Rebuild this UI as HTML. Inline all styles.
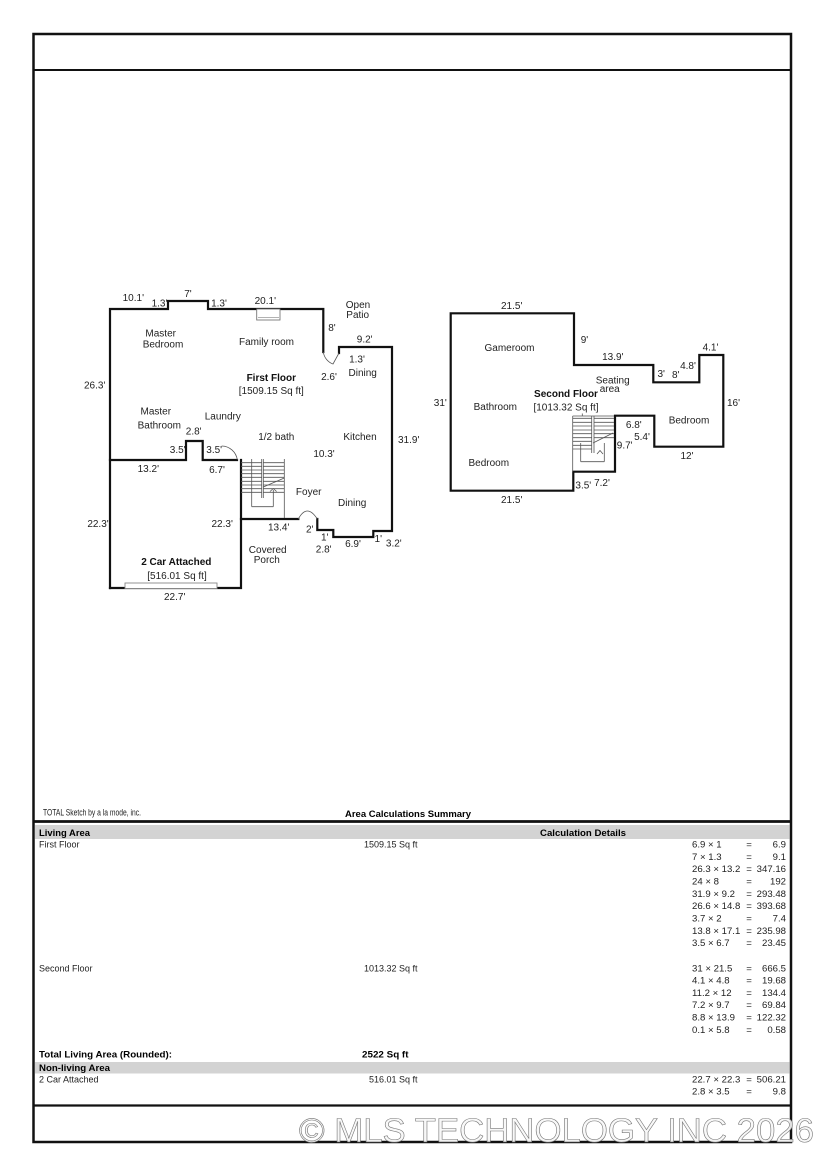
<!DOCTYPE html>
<html>
<head>
<meta charset="utf-8">
<style>
  html, body { margin:0; padding:0; background:#fff; }
  svg { display:block; }
  .lbl { font-family:"Liberation Sans", sans-serif; font-size:10px; fill:#222; text-anchor:middle; }
  .bld { font-family:"Liberation Sans", sans-serif; font-size:10px; fill:#111; font-weight:bold; text-anchor:middle; }
  .t { font-family:"Liberation Sans", sans-serif; font-size:9px; fill:#222; }
  .c { font-family:"Liberation Sans", sans-serif; font-size:9.6px; fill:#222; }
  .tb { font-family:"Liberation Sans", sans-serif; font-size:9.5px; fill:#000; font-weight:bold; }
  .wall { fill:none; stroke:#111; stroke-width:2.2; stroke-linejoin:miter; stroke-linecap:square; }
  .thin { fill:none; stroke:#555; stroke-width:0.8; }
</style>
</head>
<body>
<svg width="825" height="1157" viewBox="0 0 825 1157" xmlns="http://www.w3.org/2000/svg">
  <rect x="0" y="0" width="825" height="1157" fill="#fff"/>

  <!-- page frame -->
  <rect x="33.5" y="34" width="757.5" height="1108" fill="none" stroke="#111" stroke-width="2.5"/>
  <line x1="33.5" y1="70" x2="791" y2="70" stroke="#111" stroke-width="2"/>
  <line x1="33.5" y1="821.5" x2="791" y2="821.5" stroke="#111" stroke-width="2.8"/>
  <line x1="33.5" y1="1105.5" x2="791" y2="1105.5" stroke="#111" stroke-width="2.2"/>

  <!-- ============ FIRST FLOOR ============ -->
  <g>
    <path class="wall" d="M110,588 L110,309 L168,309 L168,301 L208,301 L208,309 L323.3,309 L323.3,352"/>
    <path class="wall" d="M339,353 L339,347 L392,347 L392,531 L373.3,531 L373.3,537 L333.3,537 L333.3,530 L317.3,530 L317.3,519"/>
    <path class="wall" d="M298.3,519 L241,519"/>
    <path class="wall" d="M110,588 L241,588 L241,460"/>
    <path class="wall" d="M110,460 L186,460 L186,441 L202.7,441 L202.7,460 L237,460"/>

    <!-- garage door -->
    <rect x="125" y="583" width="92" height="5.5" fill="#fff" stroke="#888" stroke-width="0.9"/>
    <!-- fireplace -->
    <rect x="256.7" y="309" width="23.3" height="11" fill="#fff" stroke="#777" stroke-width="0.9"/>
    <line x1="258" y1="317.5" x2="279" y2="317.5" stroke="#999" stroke-width="0.7"/>

    <!-- doors -->
    <path class="thin" d="M221.7,446 A16,16 0 0 1 237.3,460"/>
    <path class="thin" d="M298.3,519 Q307,503 317.3,519"/>
    <path class="thin" d="M323.3,352 A15,15 0 0 0 333,364 L339,353"/>

    <!-- stairs -->
    <g class="thin">
      <line x1="241" y1="462.7" x2="261.7" y2="462.7"/>
      <line x1="241" y1="466.3" x2="261.7" y2="466.3"/>
      <line x1="241" y1="470" x2="261.7" y2="470"/>
      <line x1="241" y1="473.7" x2="261.7" y2="473.7"/>
      <line x1="241" y1="477.3" x2="261.7" y2="477.3"/>
      <line x1="241" y1="481.3" x2="261.7" y2="481.3"/>
      <line x1="241" y1="485" x2="261.7" y2="485"/>
      <line x1="241" y1="488.7" x2="261.7" y2="488.7"/>
      <line x1="241" y1="492.3" x2="261.7" y2="492.3"/>
      <line x1="263.3" y1="462.7" x2="284.3" y2="462.7"/>
      <line x1="263.3" y1="466.3" x2="284.3" y2="466.3"/>
      <line x1="263.3" y1="470" x2="284.3" y2="470"/>
      <line x1="263.3" y1="473.7" x2="284.3" y2="473.7"/>
      <line x1="263.3" y1="477.3" x2="284.3" y2="477.3"/>
      <line x1="263.3" y1="481.3" x2="284.3" y2="481.3"/>
      <line x1="263.3" y1="485" x2="284.3" y2="485"/>
      <line x1="263.3" y1="488.7" x2="284.3" y2="488.7"/>
      <line x1="263.3" y1="492.3" x2="284.3" y2="492.3"/>
      <line x1="251.7" y1="459" x2="251.7" y2="506.7"/>
      <line x1="261.7" y1="459" x2="261.7" y2="498"/>
      <line x1="263.3" y1="459" x2="263.3" y2="498"/>
      <line x1="284.3" y1="459" x2="284.3" y2="518"/>
      <line x1="251.7" y1="506.7" x2="273.3" y2="506.7"/>
      <line x1="273.3" y1="490" x2="273.3" y2="506.7"/>
      <line x1="263.3" y1="487" x2="284.3" y2="478"/>
      <polyline points="270,491.5 273.3,488.5 276.6,491.5"/>
    </g>

    <!-- labels -->
    <text class="lbl" x="133.3" y="301">10.1'</text>
    <text class="lbl" x="159.5" y="306.5">1.3'</text>
    <text class="lbl" x="188" y="297">7'</text>
    <text class="lbl" x="219" y="306.5">1.3'</text>
    <text class="lbl" x="265.3" y="304">20.1'</text>
    <text class="lbl" x="358" y="308">Open</text>
    <text class="lbl" x="357.7" y="318">Patio</text>
    <text class="lbl" x="332" y="331">8'</text>
    <text class="lbl" x="364.7" y="342.5">9.2'</text>
    <text class="lbl" x="357" y="362.5">1.3'</text>
    <text class="lbl" x="362.7" y="376">Dining</text>
    <text class="lbl" x="329" y="380">2.6'</text>
    <text class="lbl" x="160.7" y="336.5">Master</text>
    <text class="lbl" x="163" y="347.7">Bedroom</text>
    <text class="lbl" x="266.5" y="345">Family room</text>
    <text class="bld" x="271.3" y="381">First Floor</text>
    <text class="lbl" x="271.3" y="394">[1509.15 Sq ft]</text>
    <text class="lbl" x="94.7" y="388.5">26.3'</text>
    <text class="lbl" x="155.8" y="414.5">Master</text>
    <text class="lbl" x="159.3" y="428.5">Bathroom</text>
    <text class="lbl" x="222.8" y="419.5">Laundry</text>
    <text class="lbl" x="193.7" y="434.5">2.8'</text>
    <text class="lbl" x="276.3" y="440">1/2 bath</text>
    <text class="lbl" x="360" y="440">Kitchen</text>
    <text class="lbl" x="408.7" y="443">31.9'</text>
    <text class="lbl" x="177.7" y="453">3.5'</text>
    <text class="lbl" x="214.2" y="453">3.5'</text>
    <text class="lbl" x="324" y="457">10.3'</text>
    <text class="lbl" x="148.3" y="472">13.2'</text>
    <text class="lbl" x="217" y="473">6.7'</text>
    <text class="lbl" x="308.7" y="495">Foyer</text>
    <text class="lbl" x="352.2" y="506">Dining</text>
    <text class="lbl" x="98" y="527">22.3'</text>
    <text class="lbl" x="222.2" y="527">22.3'</text>
    <text class="lbl" x="278.7" y="530.5">13.4'</text>
    <text class="lbl" x="309.7" y="532.5">2'</text>
    <text class="lbl" x="324.7" y="540.5">1'</text>
    <text class="lbl" x="353" y="547">6.9'</text>
    <text class="lbl" x="378.3" y="542">1'</text>
    <text class="lbl" x="393.8" y="546.5">3.2'</text>
    <text class="lbl" x="323.7" y="552.5">2.8'</text>
    <text class="lbl" x="267.7" y="553">Covered</text>
    <text class="lbl" x="266.8" y="563">Porch</text>
    <text class="bld" x="176.3" y="565">2 Car Attached</text>
    <text class="lbl" x="177" y="579">[516.01 Sq ft]</text>
    <text class="lbl" x="174.7" y="600">22.7'</text>
  </g>

  <!-- ============ SECOND FLOOR ============ -->
  <g>
    <path class="wall" d="M450.7,313.3 L574,313.3 L574,365 L653.3,365 L653.3,382.3 L699.3,382.3 L699.3,355 L723.3,355 L723.3,446.7 L654.3,446.7 L654.3,415.7 L615,415.7 L615,471.7 L573.3,471.7 L573.3,490.7 L450.7,490.7 Z"/>

    <g class="thin">
      <line x1="572.7" y1="416" x2="614" y2="416"/>
      <line x1="572.7" y1="416" x2="572.7" y2="471.7"/>
      <line x1="582.3" y1="413.5" x2="582.3" y2="416"/>
      <line x1="572.7" y1="418.3" x2="591.7" y2="418.3"/>
      <line x1="572.7" y1="422.3" x2="591.7" y2="422.3"/>
      <line x1="572.7" y1="426" x2="591.7" y2="426"/>
      <line x1="572.7" y1="430" x2="591.7" y2="430"/>
      <line x1="572.7" y1="433.7" x2="591.7" y2="433.7"/>
      <line x1="572.7" y1="437.7" x2="591.7" y2="437.7"/>
      <line x1="572.7" y1="441.3" x2="591.7" y2="441.3"/>
      <line x1="572.7" y1="445.3" x2="591.7" y2="445.3"/>
      <line x1="572.7" y1="449" x2="591.7" y2="449"/>
      <line x1="594" y1="418.3" x2="614" y2="418.3"/>
      <line x1="594" y1="422.3" x2="614" y2="422.3"/>
      <line x1="594" y1="426" x2="614" y2="426"/>
      <line x1="594" y1="430" x2="614" y2="430"/>
      <line x1="594" y1="433.7" x2="614" y2="433.7"/>
      <line x1="594" y1="437.7" x2="614" y2="437.7"/>
      <line x1="591.7" y1="416" x2="591.7" y2="453"/>
      <line x1="594" y1="416" x2="594" y2="453"/>
      <line x1="580.7" y1="443" x2="580.7" y2="461.7"/>
      <line x1="580.7" y1="461.7" x2="604.3" y2="461.7"/>
      <line x1="604.3" y1="443" x2="604.3" y2="461.7"/>
      <line x1="593" y1="443" x2="613" y2="433"/>
      <polyline points="597,454 600,450.5 603,454"/>
    </g>

    <text class="lbl" x="511.7" y="309">21.5'</text>
    <text class="lbl" x="584.5" y="343">9'</text>
    <text class="lbl" x="509.5" y="351">Gameroom</text>
    <text class="lbl" x="710.5" y="350.5">4.1'</text>
    <text class="lbl" x="612.8" y="360">13.9'</text>
    <text class="lbl" x="688" y="369">4.8'</text>
    <text class="lbl" x="661.2" y="377">3'</text>
    <text class="lbl" x="675.8" y="378">8'</text>
    <text class="lbl" x="612.7" y="383.5">Seating</text>
    <text class="lbl" x="609.7" y="392">area</text>
    <text class="bld" x="566" y="397">Second Floor</text>
    <text class="lbl" x="566" y="410.5">[1013.32 Sq ft]</text>
    <text class="lbl" x="440.3" y="406">31'</text>
    <text class="lbl" x="495.3" y="410">Bathroom</text>
    <text class="lbl" x="733.5" y="406">16'</text>
    <text class="lbl" x="689" y="423.5">Bedroom</text>
    <text class="lbl" x="633.8" y="428">6.8'</text>
    <text class="lbl" x="642" y="440">5.4'</text>
    <text class="lbl" x="624.7" y="448.5">9.7'</text>
    <text class="lbl" x="687" y="459">12'</text>
    <text class="lbl" x="488.8" y="466">Bedroom</text>
    <text class="lbl" x="583.3" y="488.5">3.5'</text>
    <text class="lbl" x="602" y="486">7.2'</text>
    <text class="lbl" x="511.7" y="503">21.5'</text>
  </g>

  <!-- ============ TABLE ============ -->
  <text class="t" x="43" y="815.5" font-size="6.5" textLength="98" lengthAdjust="spacingAndGlyphs">TOTAL Sketch by a la mode, inc.</text>
  <text class="tb" x="345" y="817" font-size="9" textLength="126" lengthAdjust="spacingAndGlyphs">Area Calculations Summary</text>

  <rect x="35" y="825" width="754.5" height="14" fill="#d3d3d3"/>
  <text class="tb" x="39" y="836" textLength="51" lengthAdjust="spacingAndGlyphs">Living Area</text>
  <text class="tb" x="583" y="836" text-anchor="middle" textLength="86" lengthAdjust="spacingAndGlyphs">Calculation Details</text>

  <text class="t" x="39" y="847.5">First Floor</text>
  <text class="t" x="417.5" y="847.5" text-anchor="end">1509.15 Sq ft</text>

  <g class="c">
    <text x="692" y="847.5">6.9 &#215; 1</text><text x="749" y="847.5" text-anchor="middle">=</text><text x="786" y="847.5" text-anchor="end">6.9</text>
    <text x="692" y="859.8">7 &#215; 1.3</text><text x="749" y="859.8" text-anchor="middle">=</text><text x="786" y="859.8" text-anchor="end">9.1</text>
    <text x="692" y="872.2">26.3 &#215; 13.2</text><text x="749" y="872.2" text-anchor="middle">=</text><text x="786" y="872.2" text-anchor="end">347.16</text>
    <text x="692" y="884.5">24 &#215; 8</text><text x="749" y="884.5" text-anchor="middle">=</text><text x="786" y="884.5" text-anchor="end">192</text>
    <text x="692" y="896.8">31.9 &#215; 9.2</text><text x="749" y="896.8" text-anchor="middle">=</text><text x="786" y="896.8" text-anchor="end">293.48</text>
    <text x="692" y="909.2">26.6 &#215; 14.8</text><text x="749" y="909.2" text-anchor="middle">=</text><text x="786" y="909.2" text-anchor="end">393.68</text>
    <text x="692" y="921.5">3.7 &#215; 2</text><text x="749" y="921.5" text-anchor="middle">=</text><text x="786" y="921.5" text-anchor="end">7.4</text>
    <text x="692" y="933.8">13.8 &#215; 17.1</text><text x="749" y="933.8" text-anchor="middle">=</text><text x="786" y="933.8" text-anchor="end">235.98</text>
    <text x="692" y="946.2">3.5 &#215; 6.7</text><text x="749" y="946.2" text-anchor="middle">=</text><text x="786" y="946.2" text-anchor="end">23.45</text>
  </g>

  <text class="t" x="39" y="971.3">Second Floor</text>
  <text class="t" x="417.5" y="971.3" text-anchor="end">1013.32 Sq ft</text>
  <g class="c">
    <text x="692" y="971.3">31 &#215; 21.5</text><text x="749" y="971.3" text-anchor="middle">=</text><text x="786" y="971.3" text-anchor="end">666.5</text>
    <text x="692" y="983.6">4.1 &#215; 4.8</text><text x="749" y="983.6" text-anchor="middle">=</text><text x="786" y="983.6" text-anchor="end">19.68</text>
    <text x="692" y="995.9">11.2 &#215; 12</text><text x="749" y="995.9" text-anchor="middle">=</text><text x="786" y="995.9" text-anchor="end">134.4</text>
    <text x="692" y="1008.2">7.2 &#215; 9.7</text><text x="749" y="1008.2" text-anchor="middle">=</text><text x="786" y="1008.2" text-anchor="end">69.84</text>
    <text x="692" y="1020.5">8.8 &#215; 13.9</text><text x="749" y="1020.5" text-anchor="middle">=</text><text x="786" y="1020.5" text-anchor="end">122.32</text>
    <text x="692" y="1032.8">0.1 &#215; 5.8</text><text x="749" y="1032.8" text-anchor="middle">=</text><text x="786" y="1032.8" text-anchor="end">0.58</text>
  </g>

  <text class="tb" x="39" y="1057.5" textLength="133" lengthAdjust="spacingAndGlyphs">Total Living Area (Rounded):</text>
  <text class="tb" x="362" y="1057.5" textLength="46.5" lengthAdjust="spacingAndGlyphs">2522 Sq ft</text>

  <rect x="35" y="1062" width="754.5" height="11.5" fill="#d3d3d3"/>
  <text class="tb" x="39" y="1070.8" textLength="71" lengthAdjust="spacingAndGlyphs">Non-living Area</text>

  <text class="t" x="39" y="1082.3">2 Car Attached</text>
  <text class="t" x="417.5" y="1082.3" text-anchor="end">516.01 Sq ft</text>
  <g class="c">
    <text x="692" y="1082.3">22.7 &#215; 22.3</text><text x="749" y="1082.3" text-anchor="middle">=</text><text x="786" y="1082.3" text-anchor="end">506.21</text>
    <text x="692" y="1094.6">2.8 &#215; 3.5</text><text x="749" y="1094.6" text-anchor="middle">=</text><text x="786" y="1094.6" text-anchor="end">9.8</text>
  </g>

  <!-- watermark -->
  <text x="299" y="1142" font-family="Liberation Sans, sans-serif" font-size="34" fill="#f7f7f7" fill-opacity="0.9" stroke="#777" stroke-width="0.6" textLength="515" lengthAdjust="spacingAndGlyphs">© MLS TECHNOLOGY INC 2026</text>
</svg>
</body>
</html>
